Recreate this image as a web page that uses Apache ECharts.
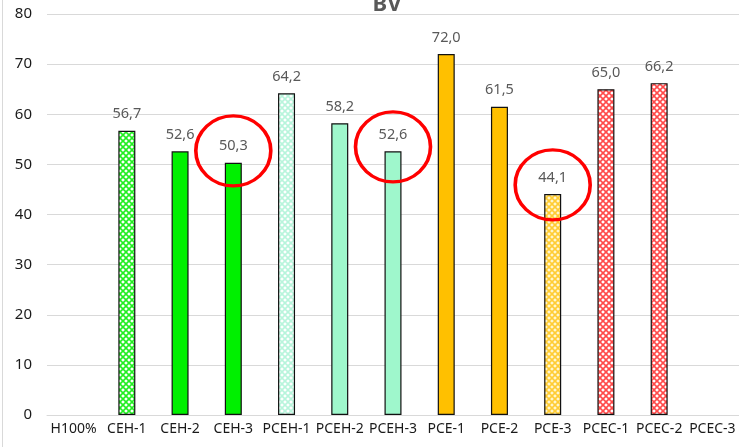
<!DOCTYPE html>
<html>
<head>
<meta charset="utf-8">
<script src="https://cdn.jsdelivr.net/npm/echarts@6/dist/echarts.min.js"></script>
<style>
  html, body { margin: 0; padding: 0; background: #fff; }
  #chart { width: 739px; height: 447px; }
</style>
</head>
<body>
<div id="chart"></div>
<script>
// 数据
const categories = ['H100%', 'CEH-1', 'CEH-2', 'CEH-3', 'PCEH-1', 'PCEH-2', 'PCEH-3',
  'PCE-1', 'PCE-2', 'PCE-3', 'PCEC-1', 'PCEC-2', 'PCEC-3'];
const bvValues = [null, 56.7, 52.6, 50.3, 64.2, 58.2, 52.6, 72.0, 61.5, 44.1, 65.0, 66.2, null];
const yTicks = [0, 10, 20, 30, 40, 50, 60, 70, 80];
// 红圈标注 [类别, 中心值]
const circled = [['CEH-3', 52.7], ['PCEH-3', 53.5], ['PCE-3', 45.9]];

// 生成格子填充图案
const makePattern = (fg, bg) => {
  const c = document.createElement('canvas');
  c.width = 6;
  c.height = 6;
  const ctx = c.getContext('2d');
  ctx.fillStyle = bg;
  ctx.fillRect(0, 0, 6, 6);
  ctx.strokeStyle = fg;
  ctx.lineWidth = 1.6;
  ctx.beginPath();
  ctx.moveTo(0, 0); ctx.lineTo(6, 6);
  ctx.moveTo(6, 0); ctx.lineTo(0, 6);
  ctx.stroke();
  return { image: c, repeat: 'repeat' };
};

const fills = [
  '#ffffff',
  makePattern('#22ee22', '#ffffff'),
  '#00f000',
  '#00f000',
  makePattern('#b8f5dc', '#ffffff'),
  '#9ff7cc',
  '#9ff7cc',
  '#ffc000',
  '#ffc000',
  makePattern('#ffcc33', '#fff6d0'),
  makePattern('#ff4a4a', '#ffffff'),
  makePattern('#ff4a4a', '#ffffff'),
  '#ffffff'
];

const chart = echarts.init(document.getElementById('chart'));

chart.setOption({
  animation: false,
  title: {
    text: 'BV',
    left: 382,
    top: -11,
    textAlign: 'center',
    textStyle: { fontFamily: 'Noto Sans', fontSize: 22, fontWeight: 'bold', color: '#595959' }
  },
  grid: { left: 47, right: 0, top: 14, bottom: 32, containLabel: false },
  xAxis: {
    type: 'category',
    data: categories,
    axisLine: { lineStyle: { color: '#d9d9d9' } },
    axisTick: { show: false },
    axisLabel: {
      interval: 0,
      margin: 7,
      color: '#1a1a1a',
      fontFamily: 'Noto Sans',
      fontSize: 14
    }
  },
  yAxis: {
    type: 'value',
    min: yTicks[0],
    max: yTicks[yTicks.length - 1],
    interval: 10,
    axisLine: { show: false },
    axisTick: { show: false },
    splitLine: { lineStyle: { color: '#d9d9d9' } },
    axisLabel: { margin: 15, color: '#1a1a1a', fontFamily: 'Noto Sans', fontSize: 15 }
  },
  series: [
    {
      name: 'BV',
      type: 'bar',
      barWidth: 17,
      data: bvValues.map((v, i) => ({
        value: v,
        itemStyle: { color: fills[i], borderColor: '#111', borderWidth: 1.2 }
      })),
      label: {
        show: true,
        position: 'top',
        distance: 9,
        color: '#595959',
        fontFamily: 'Noto Sans',
        fontSize: 14.5,
        formatter: p => p.value == null ? '' : p.value.toFixed(1).replace('.', ',')
      },
      markPoint: {
        symbol: 'circle',
        symbolSize: [75, 70],
        silent: true,
        label: { show: false },
        itemStyle: { color: 'rgba(0,0,0,0)', borderColor: '#ff0000', borderWidth: 3.5 },
        data: circled.map(c => ({ coord: c }))
      }
    }
  ],
  graphic: [
    { type: 'line', shape: { x1: 2.5, y1: 0, x2: 2.5, y2: 447 }, style: { stroke: '#d9d9d9', lineWidth: 1 } }
  ]
});
</script>
</body>
</html>
